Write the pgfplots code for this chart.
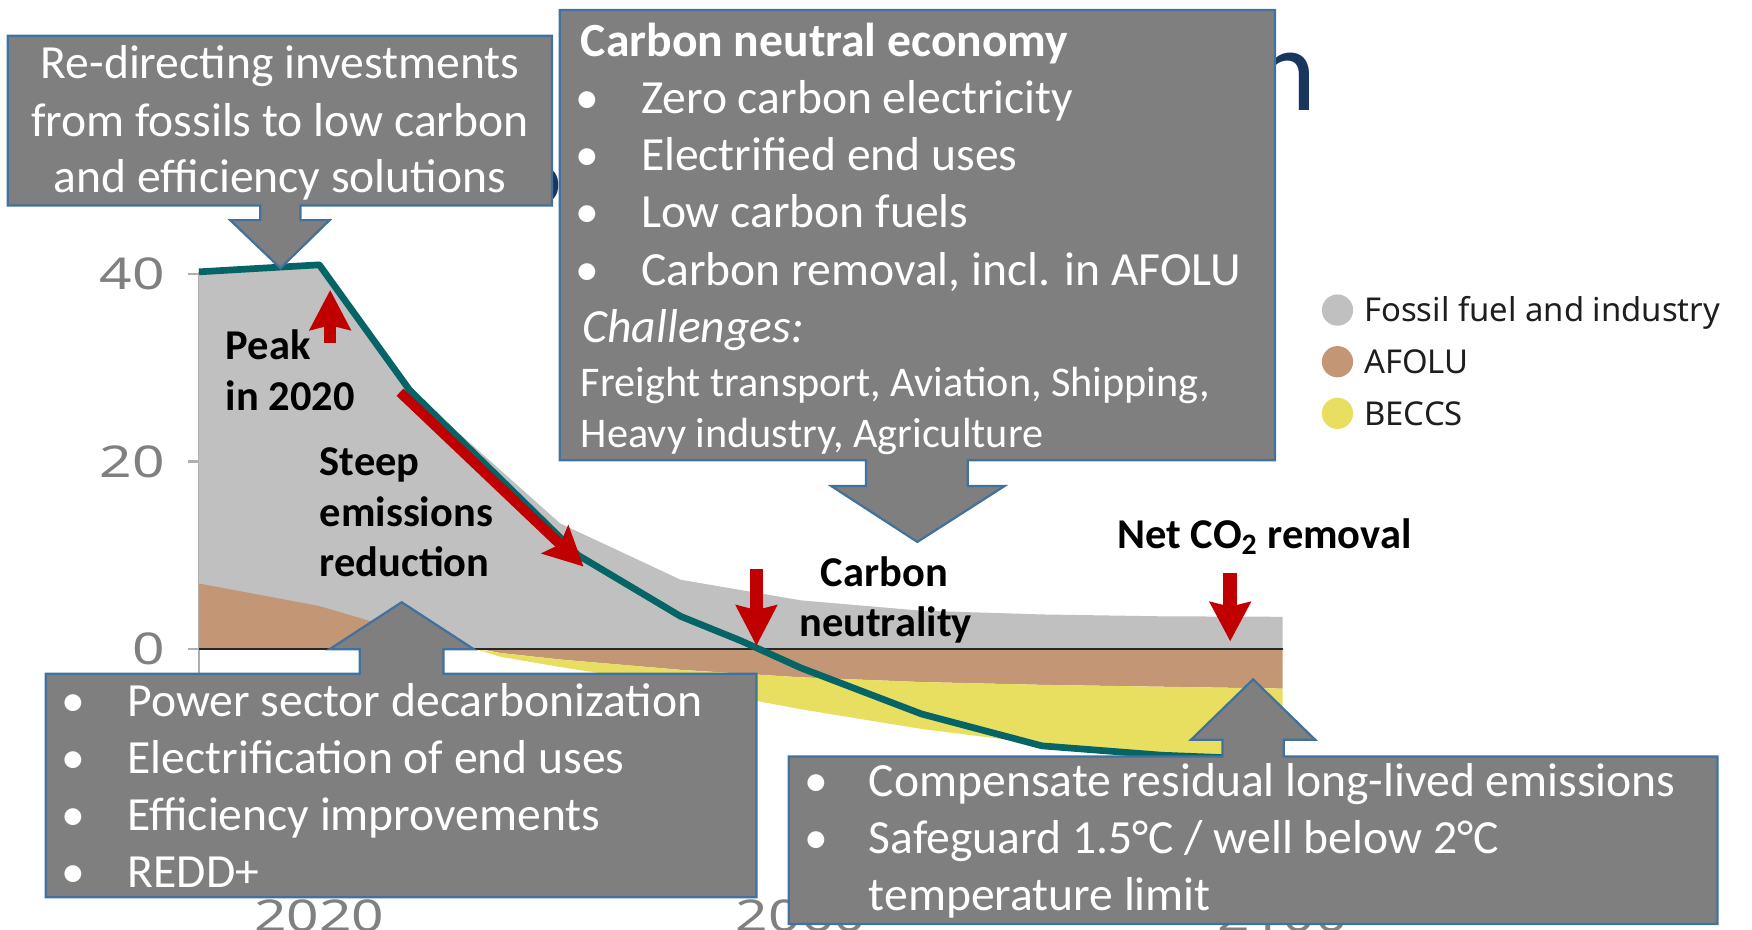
\documentclass[border=0pt]{standalone}
\usepackage{fontspec}
\setmainfont{Carlito}
\newfontfamily\noto{Noto Sans}
\usepackage{graphicx}
\usepackage{pgfplots}
\pgfplotsset{compat=1.18}
\usetikzlibrary{arrows.meta}
\definecolor{boxfill}{RGB}{127,127,127}
\definecolor{boxline}{RGB}{65,113,156}
\definecolor{fossil}{RGB}{192,192,192}
\definecolor{afolu}{RGB}{195,151,117}
\definecolor{beccs}{RGB}{232,223,96}
\definecolor{netline}{RGB}{4,100,102}
\definecolor{arrowred}{RGB}{192,0,0}
\definecolor{navy}{RGB}{24,54,94}
\definecolor{ticklab}{RGB}{128,128,128}
\definecolor{axgrey}{RGB}{175,175,175}
\definecolor{zeroline}{RGB}{40,40,40}
\definecolor{legtext}{RGB}{30,30,30}

\begin{document}
\begin{tikzpicture}
\path[use as bounding box] (0pt,0pt) rectangle (784pt,416pt);
\clip (0pt,0pt) rectangle (784pt,416pt);

% title fragments behind the callouts
\begin{scope}[x=0.5pt,y=-0.5pt,yshift=416pt]
\node[anchor=base east, inner sep=0pt, text=navy, font=\fontsize{53pt}{60pt}\selectfont] at (1179,98.5) {n};
\node[anchor=base east, inner sep=0pt, text=navy, font=\fontsize{34pt}{40pt}\selectfont] at (503,182) {o};
\end{scope}

\begin{axis}[
  at={(89pt,33.1pt)}, anchor=south west,
  scale only axis, width=485pt, height=261.25pt,
  xmin=2010, xmax=2100, ymin=-22, ymax=40.2,
  clip=false,
  axis lines*=left, separate axis lines,
  x axis line style={draw=none},
  y axis line style={draw=axgrey, line width=1pt},
  xtick={2020,2060,2100},
  xticklabels={\scalebox{1.3}[1]{2020},\scalebox{1.3}[1]{2060},\scalebox{1.3}[1]{2100}},
  ytick={0,20,40},
  yticklabels={\scalebox{1.3}[1]{0},\scalebox{1.3}[1]{20},\scalebox{1.3}[1]{40}},
  tick align=outside, ytick pos=left,
  major tick length=5pt,
  x tick style={draw=none},
  y tick style={draw=axgrey, line width=1pt},
  ticklabel style={font=\noto\fontsize{19.6pt}{20pt}\selectfont, text=ticklab, inner sep=0pt},
  yticklabel shift=10pt,
  xticklabel shift=14.6pt,
  legend cell align=left,
  legend style={at={(1.0361,0.9613)}, anchor=north west, draw=none, fill=none,
    inner sep=0pt, outer sep=0pt, row sep=9.1pt, column sep=5pt,
    font=\noto\fontsize{14.7pt}{16pt}\selectfont, text=legtext,
    nodes={inner sep=0pt, text height=10.5pt, text depth=0pt}},
]
\addplot[fill=fossil, draw=none,
  legend image code/.code={\fill[fossil] (0pt,0pt) circle (7pt);}]
  coordinates {(2010,0) (2010,40.2) (2020,40.95) (2027.5,27.7) (2040,13.4)
    (2050,7.4) (2060,5.2) (2070,4.1) (2080,3.7) (2090,3.5) (2100,3.45) (2100,0)};
\addlegendentry{Fossil fuel and industry}
\addplot[fill=afolu, draw=none,
  legend image code/.code={\fill[afolu] (0pt,0pt) circle (7pt);}]
  coordinates {(2010,0) (2010,7.0) (2015,5.8) (2020,4.6) (2025,2.7) (2030,0.9)
    (2035,-0.4) (2040,-1.1) (2050,-2.2) (2060,-3.0) (2070,-3.5) (2080,-3.8)
    (2090,-4.0) (2100,-4.2) (2100,0)};
\addlegendentry{AFOLU}
\addplot[fill=beccs, draw=none,
  legend image code/.code={\fill[beccs] (0pt,0pt) circle (7pt);}]
  coordinates {(2033,0) (2035,-0.4) (2040,-1.1) (2050,-2.2) (2060,-3.0) (2070,-3.5)
    (2080,-3.8) (2090,-4.0) (2100,-4.2) (2100,-12.6) (2090,-11.5) (2080,-10.1)
    (2070,-8.5) (2060,-6.4) (2050,-4.0) (2045,-2.9) (2040,-1.9) (2035,-0.8)};
\addlegendentry{BECCS}
\addplot[draw=zeroline, line width=1.1pt, forget plot]
  coordinates {(2010,0) (2100,0)};
\addplot[draw=netline, line width=3pt, line join=round, forget plot]
  coordinates {(2010,40.2) (2020,40.95) (2027.5,27.6) (2040,11.9) (2041.5,10.0)
    (2050,3.5) (2055,0.9) (2060,-2.0) (2070,-6.9) (2080,-10.3) (2090,-11.3) (2100,-11.8)};
\end{axis}

\begin{scope}[x=0.5pt,y=-0.5pt,yshift=416pt]
\tikzset{
  lab/.style={text=black, inner sep=0pt, font=\bfseries\fontsize{19pt}{23pt}\selectfont},
  btxt/.style={text=white, inner sep=0pt, font=\fontsize{21.3pt}{25.6pt}\selectfont},
  stxt/.style={text=white, inner sep=0pt, font=\fontsize{18.9pt}{22.6pt}\selectfont},
  callout/.style={fill=boxfill, draw=boxline, line width=1pt, line join=miter},
}
% black labels
\node[lab, anchor=base west] at (201.8,321.6) {Peak};
\node[lab, anchor=base west] at (201.8,367) {in 2020};
\node[lab, anchor=base west] at (285.8,426) {Steep};
\node[lab, anchor=base west] at (285.8,471.4) {emissions};
\node[lab, anchor=base west] at (285.8,516.1) {reduction};
\node[lab, anchor=base] at (791.5,524.5) {Carbon};
\node[lab, anchor=base] at (792.5,569.8) {neutrality};
\node[lab, anchor=base west] at (999.7,490.8) {Net CO\textsubscript{2} removal};

% red arrows
\draw[arrowred, line width=5.6pt, -{Stealth[length=17.8pt,width=18pt,inset=2pt]}] (295.5,307) -- (295.5,259.5);
\draw[arrowred, line width=4.5pt, -{Stealth[length=17.5pt,width=17pt,inset=3pt]}] (358,351) -- (522.3,507.1);
\draw[arrowred, line width=6pt, -{Stealth[length=18pt,width=18pt,inset=2pt]}] (677,509) -- (677,578);
\draw[arrowred, line width=6.5pt, -{Stealth[length=17.5pt,width=18pt,inset=2pt]}] (1101,513) -- (1101,574);

% callout boxes
\draw[callout] (7,32) -- (494,32) -- (494,184) -- (269,184) -- (269,197) -- (295,197)
  -- (251,240) -- (206,197) -- (233,197) -- (233,184) -- (7,184) -- cycle;
\draw[callout] (501,9) -- (1141,9) -- (1141,412) -- (866,412) -- (866,435) -- (899,435)
  -- (821,485) -- (744,435) -- (775,435) -- (775,412) -- (501,412) -- cycle;
\draw[callout] (41,603) -- (322,603) -- (322,581) -- (295,581) -- (359.5,539) -- (424,581)
  -- (397,581) -- (397,603) -- (677,603) -- (677,803) -- (41,803) -- cycle;
\draw[callout] (706,677) -- (1094,677) -- (1094,662) -- (1066,662) -- (1121.5,608)
  -- (1177,662) -- (1149,662) -- (1149,677) -- (1537,677) -- (1537,827) -- (706,827) -- cycle;

% box 1 text
\node[btxt, anchor=base] at (250.5,70) {Re-directing investments};
\node[btxt, anchor=base] at (250.5,122) {from fossils to low carbon};
\node[btxt, anchor=base] at (250.5,172.5) {and efficiency solutions};

% box 2 text
\node[btxt, anchor=base west, font=\bfseries\fontsize{21.3pt}{25.6pt}\selectfont] at (519.5,50.7) {Carbon neutral economy};
\foreach \yy/\tt in {101.4/Zero carbon electricity, 152.8/Electrified end uses, 203.8/Low carbon fuels, 255.1/{Carbon removal, incl. in AFOLU}}{
  \node[btxt, anchor=base] at (526,\yy) {•};
  \node[btxt, anchor=base west] at (573.3,\yy) {\tt};
}
\node[btxt, anchor=base west, font=\itshape\fontsize{21.3pt}{25.6pt}\selectfont] at (521,306.7) {Challenges:};
\node[stxt, anchor=base west] at (519.5,355) {Freight transport, Aviation, Shipping,};
\node[stxt, anchor=base west] at (519.5,400.4) {Heavy industry, Agriculture};

% box 3 text
\foreach \yy/\tt in {640.8/Power sector decarbonization, 692/Electrification of end uses, 743.3/Efficiency improvements, 794.5/REDD+}{
  \node[btxt, anchor=base] at (65.4,\yy) {•};
  \node[btxt, anchor=base west] at (113.9,\yy) {\tt};
}

% box 4 text
\node[btxt, anchor=base] at (731,713) {•};
\node[btxt, anchor=base west] at (777.2,713) {Compensate residual long-lived emissions};
\node[btxt, anchor=base] at (731,764) {•};
\node[btxt, anchor=base west] at (777.2,764) {Safeguard 1.5°C / well below 2°C};
\node[btxt, anchor=base west] at (777.2,815) {temperature limit};
\end{scope}
\end{tikzpicture}
\end{document}
